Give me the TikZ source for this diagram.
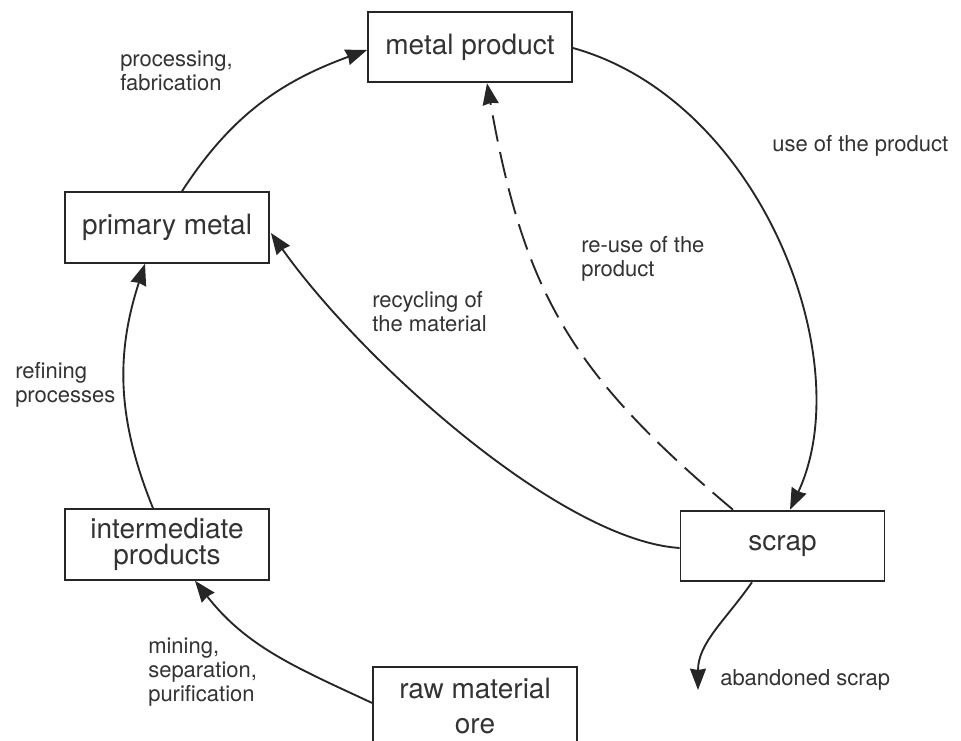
\documentclass[tikz,border=0pt]{standalone}
\usepackage{fontspec}
\setmainfont{TeX Gyre Heros}
\usetikzlibrary{calc,arrows.meta}
\begin{document}
\begin{tikzpicture}[x=0.75pt,y=0.75pt,
  box/.style={draw=black!85,line width=1.4pt,minimum width=153pt,minimum height=53pt,
    inner sep=0pt,align=center,font=\fontsize{21pt}{20pt}\selectfont,text=black!80},
  lbl/.style={anchor=base west,inner sep=0pt,align=left,
    font=\fontsize{16.5pt}{18pt}\selectfont,text=black!80},
  flow/.style={line width=1.4pt,draw=black!85,
    -{Stealth[length=16pt,width=12pt,inset=1pt]}},
  reuse/.style={flow,dash pattern=on 20pt off 8pt}]
\clip (0,0) rectangle (961,-741);
\fill[white] (0,0) rectangle (961,-741);

% the five stages of the metal cycle
\node[box] (mp) at (470,-47) {metal product};
\node[box] (pm) at (167,-227.5) {primary metal};
\node[box] (ip) at (167,-544.5) {intermediate\\products};
\node[box] (sc) at (782.5,-546) {scrap};
\node[box,anchor=north,minimum height=58.5pt,
  font=\fontsize{21pt}{26pt}\selectfont] (rm) at (475,-666) {raw material\\ore};
\coordinate (ab) at (698,-690);

% flows between the stages
\draw[flow] ($(rm.west)+(0,3)$) to[out=155,in=-52] ($(ip.south)+(28,0)$);
\draw[flow] ($(ip.north)+(-14,0)$) to[out=112,in=-108] ($(pm.south)+(-22,0)$);
\draw[flow] ($(pm.north)+(15,0)$) to[out=57,in=200] ($(mp.west)+(0,-3)$);
\draw[flow] ($(mp.east)+(0,-1)$) .. controls +(187,-52) and +(70,150) .. ($(sc.north)+(7.5,0)$);
\draw[flow] ($(sc.west)+(0,-2)$) .. controls +(-120,8) and +(90,-127) .. ($(pm.east)+(1,-5.5)$);
\draw[reuse] ($(sc.north)+(-49.5,0)$) to[out=140,in=-80,looseness=1.1] ($(mp.south)+(17,0)$);
\draw[flow] ($(sc.south)+(-30.5,0)$) to[out=-125,in=90] (ab);

% labels of the flows
\node[lbl] (tproc) at (120,-91) {processing,\\fabrication};
\node[lbl] (tuse) at (772,-152) {use of the product};
\node[lbl] (treuse) at (581,-277) {re-use of the\\product};
\node[lbl] (trec) at (372,-332) {recycling of\\the material};
\node[lbl] (tref) at (15,-403) {refining\\processes};
\node[lbl] (tmin) at (148,-701) {mining,\\separation,\\purification};
\node[lbl] (taban) at (720,-685) {abandoned scrap};
\end{tikzpicture}
\end{document}
